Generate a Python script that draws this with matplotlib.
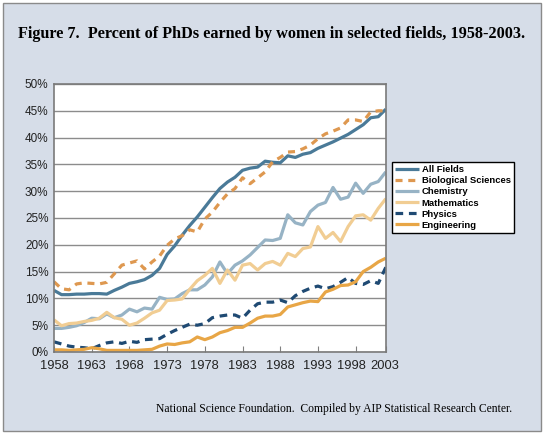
import matplotlib
matplotlib.use("Agg")
import matplotlib.pyplot as plt
import matplotlib.transforms as mtransforms
from matplotlib.patches import Rectangle

# Percent of PhDs earned by women, one value per category step (45 steps, 1958 .. 2003)
all_fields = [11.5, 10.7, 10.7, 10.8, 10.8, 10.9, 10.9, 10.8, 11.5, 12.1,
              12.8, 13.1, 13.5, 14.3, 15.6, 18.2, 19.8, 21.8, 23.6, 25.2,
              27.0, 28.8, 30.5, 31.7, 32.6, 33.9, 34.3, 34.5, 35.6, 35.4,
              35.3, 36.6, 36.3, 36.9, 37.2, 38.0, 38.6, 39.2, 39.9, 40.6,
              41.5, 42.4, 43.7, 43.9, 45.3]
biological = [13.1, 11.8, 11.6, 12.7, 12.9, 12.8, 12.7, 13.0, 14.6, 16.2,
              16.6, 17.0, 15.5, 16.8, 17.9, 19.9, 21.1, 21.7, 22.8, 22.4,
              24.8, 26.1, 27.9, 29.5, 30.5, 32.5, 31.4, 32.5, 33.6, 35.5,
              36.3, 37.3, 37.4, 37.9, 38.6, 39.8, 40.7, 41.2, 41.8, 43.3,
              43.3, 43.0, 44.8, 45.0, 45.0]
chemistry = [4.4, 4.4, 4.6, 4.9, 5.5, 6.3, 6.2, 7.1, 6.4, 6.9,
             8.0, 7.5, 8.2, 8.0, 10.2, 9.8, 9.9, 10.9, 11.6, 11.6,
             12.5, 14.0, 16.8, 14.6, 16.2, 17.0, 18.1, 19.5, 20.9, 20.8,
             21.2, 25.6, 24.1, 23.7, 26.2, 27.4, 27.9, 30.7, 28.5, 28.9,
             31.5, 29.6, 31.3, 31.8, 33.6]
mathematics = [6.0, 4.9, 5.3, 5.4, 5.7, 5.9, 6.3, 7.4, 6.4, 6.1,
               5.0, 5.4, 6.3, 7.3, 7.8, 9.6, 9.7, 9.9, 11.7, 13.3,
               14.3, 15.6, 12.8, 15.3, 13.4, 16.2, 16.5, 15.3, 16.5, 16.9,
               16.2, 18.4, 17.8, 19.3, 19.6, 23.4, 21.2, 22.3, 20.6, 23.4,
               25.4, 25.6, 24.6, 26.8, 28.6]
physics = [1.9, 1.5, 1.1, 0.9, 0.8, 0.6, 1.2, 1.7, 1.9, 1.6,
           2.0, 1.8, 2.3, 2.4, 2.5, 3.3, 4.0, 4.6, 5.2, 5.0,
           5.3, 6.4, 6.7, 6.9, 6.9, 6.3, 7.8, 9.0, 9.3, 9.3,
           9.7, 9.2, 10.5, 11.3, 11.9, 12.3, 11.8, 12.2, 13.0, 13.9,
           12.8, 12.6, 13.3, 12.8, 15.8]
engineering = [0.4, 0.4, 0.3, 0.4, 0.5, 0.8, 0.6, 0.3, 0.3, 0.3,
               0.3, 0.3, 0.4, 0.5, 1.1, 1.5, 1.4, 1.7, 1.9, 2.8,
               2.3, 2.8, 3.6, 4.0, 4.6, 4.6, 5.4, 6.3, 6.7, 6.7,
               7.0, 8.4, 8.8, 9.2, 9.5, 9.4, 11.2, 11.7, 12.4, 12.5,
               13.1, 15.0, 15.8, 16.8, 17.5]

tick_pos = [0, 5, 10, 15, 20, 25, 30, 35, 40, 44]
tick_labels = ["1958", "1963", "1968", "1973", "1978", "1983",
               "1988", "1993", "1998", "2003"]
y_ticks = [0, 5, 10, 15, 20, 25, 30, 35, 40, 45, 50]

series = [
    ("All Fields", all_fields, "#4a7a98", "-"),
    ("Biological Sciences", biological, "#de9850", (0, (2.2, 1.8))),
    ("Chemistry", chemistry, "#97b3c5", "-"),
    ("Mathematics", mathematics, "#f1cd93", "-"),
    ("Physics", physics, "#1f4a73", (0, (2.4, 1.8))),
    ("Engineering", engineering, "#e8a646", "-"),
]

sans = ["Liberation Sans", "DejaVu Sans"]
serif = ["Liberation Serif", "DejaVu Serif"]

fig = plt.figure(figsize=(5.44, 4.34), dpi=100)
fig.patch.set_facecolor("white")
# light panel behind everything
fig.patches.append(Rectangle((3 / 544, 3 / 434), 538 / 544, 428 / 434,
                             transform=fig.transFigure, facecolor="#d6dde8",
                             edgecolor="#8a8a8a", linewidth=1.0, zorder=-10))

fig.text(0.5, 0.921, "Figure 7.  Percent of PhDs earned by women in selected fields, 1958-2003.",
         ha="center", va="center", fontsize=11.7, fontweight="bold", family=serif, color="black")
fig.text(0.941, 0.058, "National Science Foundation.  Compiled by AIP Statistical Research Center.",
         ha="right", va="center", fontsize=8.35, family=serif, color="black")

ax = fig.add_axes([54 / 544, 1 - 352 / 434, (385.8 - 54) / 544, (352 - 84) / 434])
ax.set_zorder(1)
ax.set_facecolor("white")

x = list(range(len(all_fields)))
for name, vals, color, ls in series:
    ax.plot(x, vals, color=color, linestyle=ls, linewidth=2.3, label=name,
            solid_capstyle="butt", dash_capstyle="butt")

ax.set_xlim(0, len(all_fields) - 1)
ax.set_ylim(0, 50)
ax.set_yticks(y_ticks)
ax.set_yticklabels([f"{v}%" for v in y_ticks], family=sans, fontsize=8.5, color="#222222")
ax.set_xticks(tick_pos)
ax.set_xticklabels(tick_labels, family=sans, fontsize=9.3, color="#222222")
ax.tick_params(axis="y", length=0, pad=4)
ax.tick_params(axis="x", direction="in", length=4, width=0.8, color="#808080", pad=6)
ax.grid(axis="y", color="#8c8c8c", linewidth=1.0)
ax.set_axisbelow(True)
for side in ["left", "bottom", "top", "right"]:
    ax.spines[side].set_color("#7a7a7a")
    ax.spines[side].set_linewidth(1.2)

# the last two labels sit close together; nudge them apart like the original
for lbl, dx in zip(ax.get_xticklabels()[-2:], [-4.0, -1.5]):
    lbl.set_transform(lbl.get_transform() + mtransforms.ScaledTranslation(dx / 100, 0, fig.dpi_scale_trans))

leg = fig.legend(loc="upper left", bbox_to_anchor=(392 / 544, 1 - 162 / 434),
                 prop={"family": sans, "weight": "bold", "size": 6.8},
                 frameon=True, fancybox=False, edgecolor="black", framealpha=1,
                 handlelength=2.5, handletextpad=0.3, labelspacing=0.22,
                 borderpad=0.35, borderaxespad=0)
leg.get_frame().set_linewidth(1.0)
leg.set_zorder(2)

fig.savefig("out.png", dpi=100, facecolor="white")
